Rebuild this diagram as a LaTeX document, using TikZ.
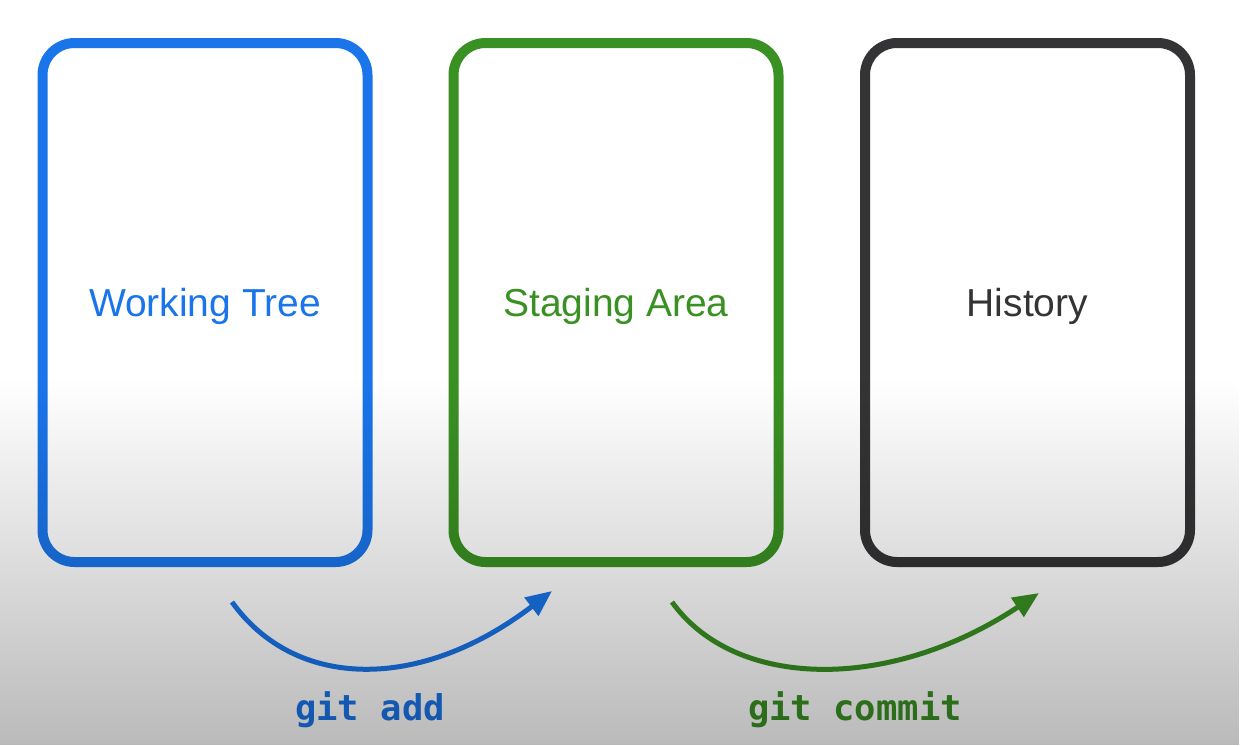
\documentclass[tikz,border=0pt]{standalone}
\usepackage{fontspec}
\setmainfont{Liberation Sans}
\newfontfamily\cmdfont{DejaVu Sans Mono}
\usetikzlibrary{arrows.meta, fadings}
\definecolor{treeblue}{RGB}{26, 117, 234}
\definecolor{stagegreen}{RGB}{58, 145, 35}
\definecolor{historygray}{RGB}{52, 52, 54}
\tikzfading[name=dimdown, top color=transparent!100, bottom color=transparent!73]

\begin{document}
\begin{tikzpicture}[x=1pt, y=-1pt,
    area/.style={draw=#1, text=#1, line width=10pt, rounded corners=32pt,
      minimum width=325pt, minimum height=519pt, text depth=0pt,
      font=\fontsize{39pt}{47pt}\selectfont},
    move/.style={draw=#1, line width=5pt, -{Triangle[length=26pt, width=22pt]}},
    cmd/.style={text=#1, font=\cmdfont\bfseries\fontsize{35.5pt}{42pt}\selectfont}]
  \useasboundingbox (0,0) rectangle (1240,745);
  \fill[white] (0,0) rectangle (1240,745);
  % the three areas
  \node[area=treeblue] (tree) at (205,302.5) {Working Tree};
  \node[area=stagegreen] (stage) at (616,302.5) {Staging Area};
  \node[area=historygray] (history) at (1027.5,302.5) {History};
  % commands
  \coordinate (addfrom) at (232,602);
  \coordinate (addto) at (552,591);
  \coordinate (commitfrom) at (672,602);
  \coordinate (committo) at (1039,593);
  \draw[move=treeblue] (addfrom) .. controls (295,690) and (420,692) .. (addto);
  \draw[move=stagegreen] (commitfrom) .. controls (735,690) and (890,692) .. (committo);
  \node[cmd=treeblue] (addlabel) at (370,710) {git add};
  \node[cmd=stagegreen] (commitlabel) at (855,710) {git commit};
  % grey fade towards the bottom
  \fill[black, path fading=dimdown] (0,380) rectangle (1240,745);
\end{tikzpicture}
\end{document}
